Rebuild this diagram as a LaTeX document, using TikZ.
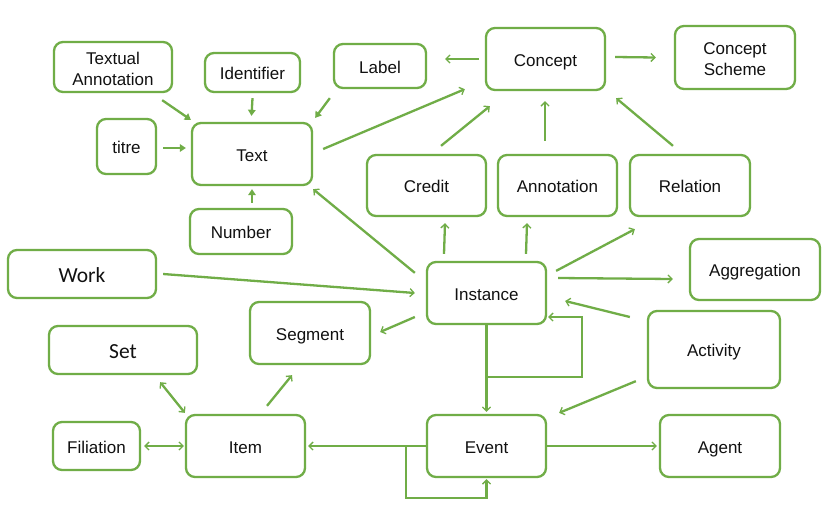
\documentclass[tikz,border=0pt]{standalone}
\usepackage{fontspec}
\setmainfont{Liberation Sans}
\newfontfamily\carlitofont{Carlito}
\usetikzlibrary{arrows.meta}
\definecolor{gr}{HTML}{70AD47}
\definecolor{txt}{HTML}{111111}
\tikzset{
  boxbase/.style={draw=gr, line width=2.3pt, rounded corners=9pt, inner sep=0pt,
    align=center, text=txt, font=\fontsize{17}{21}\selectfont},
  box/.style={boxbase, text height=15pt, text depth=0.8pt},
  box2/.style={boxbase},
  bigbox/.style={boxbase, font=\carlitofont\fontsize{21.5}{24}\selectfont, text height=16.8pt, text depth=0pt},
  arr/.style={draw=gr, line width=2.3pt, -{Straight Barb[length=4pt,width=8pt,line width=1.3pt]}},
  farr/.style={draw=gr, line width=2.3pt, -{Triangle[length=6pt,width=7.5pt]}},
  darr/.style={draw=gr, line width=2.3pt, {Straight Barb[length=4pt,width=8pt,line width=1.3pt]}-{Straight Barb[length=4pt,width=8pt,line width=1.3pt]}}
}
\begin{document}
\begin{tikzpicture}[x=1pt,y=-1pt]
\useasboundingbox[fill=white] (0,0) rectangle (840,520);
% nodes
\node[box2, minimum width=118pt, minimum height=50pt] (ta) at (113,67) {\rule{0pt}{15.5pt}Textual\\Annotation};
\node[box, minimum width=95pt, minimum height=39pt] (id) at (252.5,72.5) {Identifier};
\node[box, minimum width=92pt, minimum height=44pt] (lab) at (380,66) {Label};
\node[box, minimum width=59pt, minimum height=55pt] (titre) at (126.5,146.5) {titre};
\node[box, minimum width=120pt, minimum height=62pt] (text) at (252,154) {Text};
\node[box, minimum width=102pt, minimum height=45pt] (num) at (241,231.5) {Number};
\node[box, minimum width=119pt, minimum height=62pt] (concept) at (545.5,59) {Concept};
\node[box2, minimum width=120pt, minimum height=63pt] (cs) at (735,57.5) {\rule{0pt}{15.5pt}Concept\\Scheme};
\node[box, minimum width=119pt, minimum height=61pt] (credit) at (426.5,185.5) {Credit};
\node[box, minimum width=119pt, minimum height=61pt] (annot) at (557.5,185.5) {Annotation};
\node[box, minimum width=120pt, minimum height=61pt] (rel) at (690,185.5) {Relation};
\node[box, minimum width=130pt, minimum height=61pt] (agg) at (755,269.5) {Aggregation};
\node[bigbox, minimum width=148pt, minimum height=48pt] (work) at (82,274) {Work};
\node[box, minimum width=120pt, minimum height=62pt] (seg) at (310,333) {Segment};
\node[bigbox, minimum width=148pt, minimum height=48pt] (set) at (123,350) {Set};
\node[box, minimum width=87pt, minimum height=48pt] (fil) at (96.5,446) {Filiation};
\node[box, minimum width=119pt, minimum height=62pt] (item) at (245.5,446) {Item};
\node[box, minimum width=119pt, minimum height=62pt] (inst) at (486.5,293) {Instance};
\node[box, minimum width=132pt, minimum height=77pt] (act) at (714,349.5) {Activity};
\node[box, minimum width=119pt, minimum height=62pt] (event) at (486.5,446) {Event};
\node[box, minimum width=120pt, minimum height=62pt] (agent) at (720,446) {Agent};
% connectors
\draw[farr] ([xshift=-11pt,yshift=-7pt]ta.south east) -- ([yshift=2pt]text.north west);
\draw[farr] ([yshift=-5pt]id.south) -- ([xshift=-0.5pt,yshift=6pt]text.north);
\draw[farr] ([xshift=-3pt,yshift=-9pt]lab.south west) -- ([xshift=2pt,yshift=4pt]text.north east);
\draw[farr] ([xshift=6pt,yshift=-1.5pt]titre.east) -- ([xshift=-5pt,yshift=6pt]text.west);
\draw[farr] ([xshift=11pt,yshift=5pt]num.north) -- ([yshift=-3pt]text.south);
\draw[arr] ([xshift=10pt,yshift=5pt]text.east) -- ([xshift=-20pt,yshift=2pt]concept.south west);
\draw[arr] ([xshift=-6pt]concept.west) -- ([xshift=18pt,yshift=7pt]lab.east);
\draw[arr] ([xshift=9pt,yshift=2pt]concept.east) -- ([xshift=-18pt]cs.west);
\draw[arr] ([xshift=14.5pt,yshift=8pt]credit.north) -- ([xshift=5pt,yshift=-15pt]concept.south west);
\draw[arr] ([xshift=-12.5pt,yshift=13pt]annot.north) -- ([xshift=-0.5pt,yshift=-10pt]concept.south);
\draw[arr] ([xshift=-17pt,yshift=8pt]rel.north) -- ([xshift=10pt,yshift=-7pt]concept.south east);
\draw[arr] ([xshift=-42.5pt,yshift=7pt]inst.north) -- ([xshift=18.5pt,yshift=-6pt]credit.south);
\draw[arr] ([xshift=39.5pt,yshift=7pt]inst.north) -- ([xshift=-30.5pt,yshift=-6pt]annot.south);
\draw[arr] ([xshift=9pt,yshift=-10pt]inst.north east) -- ([xshift=6pt,yshift=-12pt]rel.south west);
\draw[arr] ([xshift=-11pt,yshift=-12pt]inst.north west) -- ([yshift=-3pt]text.south east);
\draw[arr] ([xshift=6pt]work.east) -- ([xshift=-11pt]inst.west);
\draw[arr] ([xshift=-11pt,yshift=-24pt]inst.west) -- ([xshift=9pt,yshift=1pt]seg.east);
\draw[arr] ([xshift=11pt,yshift=15pt]inst.east) -- ([xshift=-16pt,yshift=-9.5pt]agg.west);
\draw[arr] ([xshift=-17pt,yshift=32.5pt]act.west) -- ([xshift=18pt,yshift=-8pt]inst.east);
\draw[arr] (inst.south) -- ++(0,52) -| ([xshift=35pt,yshift=-24pt]inst.east) -- ([xshift=1pt,yshift=-24pt]inst.east);
\draw[arr] (inst.south) -- ([yshift=2pt]event.north);
\draw[arr] ([xshift=-11pt,yshift=8pt]act.south west) -- ([xshift=12pt,yshift=1pt]event.north east);
\draw[arr] (event.east) -- ([xshift=-2pt]agent.west);
\draw[arr] (event.west) -- ([xshift=2pt]item.east);
\draw[arr] ([xshift=-20pt]event.west) -- ++(0,52) -| ([yshift=-1pt]event.south);
\draw[darr] ([xshift=-38pt,yshift=-7pt]set.south east) -- ([yshift=1pt]item.north west);
\draw[darr] ([xshift=3pt]fil.east) -- ([xshift=-1pt]item.west);
\draw[arr] ([xshift=21.5pt,yshift=8pt]item.north) -- ([xshift=-18pt,yshift=-10pt]seg.south);
\end{tikzpicture}
\end{document}
